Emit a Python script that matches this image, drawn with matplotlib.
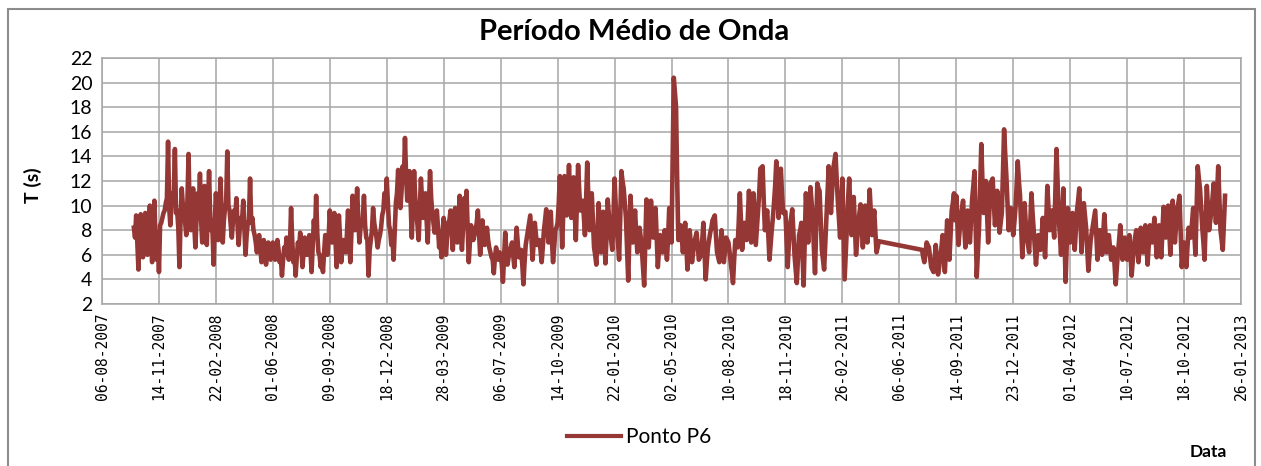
import pandas as pd
import matplotlib
matplotlib.use('Agg')
import matplotlib.pyplot as plt
import matplotlib.dates as mdates
from matplotlib.lines import Line2D
from matplotlib.patches import Rectangle

# Mean wave period at point P6.
# period_* : readings every 4 days, between_* : readings 2 days after each of those.
start_a = '2007-10-01'
period_a = [
    # Oct - Nov 2007
    8.2, 9.2, 4.8, 9.3, 5.8, 9.4, 6.0, 10.0, 5.4, 10.4, 5.6,
    # 14-11-2007
    4.6, 8.6, 9.4, 10.2, 15.2, 8.4, 11.0, 14.6, 9.6, 5.0, 11.4, 9.6, 7.6,
    14.2, 8.0, 11.4, 6.6, 11.0, 12.6, 7.0, 11.6, 6.8, 12.8, 8.0, 5.2,
    # 22-02-2008
    11.0, 7.2, 12.2, 7.0, 9.8, 14.4, 9.6, 7.4, 9.6, 10.6, 6.8, 9.0, 10.4,
    6.0, 8.6, 12.2, 9.0, 7.6, 6.2, 7.6, 5.4, 7.2, 5.2, 7.0, 5.6,
    # 01-06-2008
    7.0, 5.6, 7.2, 5.4, 4.3, 6.6, 7.4, 5.6, 9.8, 5.4, 4.3, 7.0, 7.8,
    5.0, 7.4, 6.0, 7.6, 4.6, 8.8, 10.8, 6.2, 5.0, 4.6, 7.6, 6.0,
    # 09-09-2008
    9.6, 7.0, 9.4, 5.0, 9.2, 5.4, 7.2, 6.2, 9.6, 5.4, 10.8, 8.0, 11.4,
    7.0, 8.6, 10.8, 7.4, 4.3, 7.2, 9.8, 8.0, 6.6, 7.6, 9.2, 11.0,
    # 18-12-2008
    12.2, 8.4, 6.8, 5.6, 10.2, 12.9, 9.8, 13.2, 15.5, 10.4, 12.8, 7.4, 12.8,
    9.4, 7.2, 12.2, 9.0, 11.0, 7.0, 12.8, 9.4, 7.8, 9.6, 6.6, 5.8,
    # 28-03-2009
    9.0, 6.0, 8.6, 9.6, 6.4, 9.8, 7.0, 10.8, 6.4, 10.6, 11.2, 5.4, 8.4,
    7.2, 8.0, 9.6, 6.0, 8.8, 6.8, 8.2, 6.6, 5.8, 4.5, 6.6, 5.6,
    # 06-07-2009
    6.0, 3.8, 7.8, 5.2, 6.4, 7.0, 5.0, 8.2, 5.8, 6.4, 3.6, 6.8, 8.0,
    9.2, 5.6, 8.6, 6.8, 7.2, 5.4, 8.0, 9.7, 7.0, 9.5, 5.4, 8.0,
    # 14-10-2009
    8.6, 12.4, 6.6, 12.4, 9.2, 13.3, 9.0, 12.3, 7.2, 13.3, 9.6, 10.4, 7.6,
    13.5, 8.0, 11.0, 6.6, 5.2, 10.2, 6.2, 9.5, 5.3, 10.5, 8.0, 6.4,
    # 22-01-2010
    12.2, 8.0, 5.6, 12.8, 11.4, 9.0, 3.9, 10.8, 7.0, 9.6, 6.2, 8.2, 6.4,
    3.5, 10.5, 6.6, 10.4, 7.4, 9.8, 5.0, 7.6, 6.2, 8.0, 5.6, 9.8,
    # 02-05-2010
    7.0, 20.4, 18.0, 7.2, 8.4, 6.2, 8.6, 4.8, 8.0, 5.4, 7.0, 7.8, 5.6,
    6.0, 8.6, 4.0, 6.6, 7.8, 8.8, 9.2, 6.2, 5.4, 8.0, 5.4, 7.4,
    # 10-08-2010
    7.0, 5.4, 3.7, 7.2, 6.6, 11.0, 6.4, 8.6, 7.2, 11.2, 7.0, 11.0, 6.8,
    9.6, 13.0, 13.2, 8.0, 9.6, 5.6, 8.0, 10.2, 13.6, 9.0, 13.0, 9.4,
    # 18-11-2010
    9.5, 5.0, 8.4, 9.7, 6.0, 3.7, 7.6, 8.6, 3.5, 11.0, 7.0, 11.5, 9.0,
    4.5, 11.8, 11.2, 6.4, 4.8, 9.0, 13.2, 9.4, 13.0, 14.2, 10.4, 7.4,
    # 26-02-2011
    12.2, 4.0, 8.6, 12.2, 7.6, 10.7, 6.0, 8.6, 10.1, 6.6, 10.0, 7.0, 11.3,
    7.6, 9.6, 6.2, 7.1,
]
between_a = [
    7.4, 7.0, 7.6, 7.2, 8.0, 7.4, 8.2, 7.6, 8.0, 7.2, 7.8,
    8.4, 9.0, 9.6, 10.6, 9.8, 10.2, 10.8, 9.4, 8.2, 9.0, 10.0, 8.6, 10.4,
    9.2, 9.8, 8.4, 9.0, 9.6, 8.8, 9.4, 8.6, 9.8, 9.0, 8.0, 8.6,
    9.4, 9.0, 9.6, 8.8, 10.2, 10.0, 8.4, 8.8, 9.0, 8.4, 8.2, 8.8, 8.2,
    7.6, 8.8, 8.6, 8.0, 7.0, 7.2, 6.6, 6.4, 6.6, 6.2, 6.4, 6.6,
    6.4, 6.2, 6.4, 5.8, 5.6, 6.0, 6.4, 6.8, 7.2, 6.0, 5.8, 6.4, 6.6,
    6.2, 6.8, 6.6, 6.4, 6.8, 7.6, 7.8, 6.0, 5.8, 6.2, 6.8, 7.4,
    7.8, 8.0, 7.2, 7.0, 7.4, 6.6, 6.8, 7.6, 7.4, 7.8, 8.6, 9.2, 8.8,
    8.2, 9.0, 8.4, 7.2, 6.4, 8.0, 8.6, 7.4, 7.2, 8.2, 9.6, 10.0,
    10.2, 8.0, 7.4, 7.8, 11.0, 10.8, 11.2, 12.0, 12.4, 11.2, 10.0, 10.2, 10.6,
    8.4, 9.6, 10.4, 9.8, 8.8, 9.8, 10.6, 8.6, 8.4, 8.2, 7.6, 7.8,
    7.6, 7.4, 8.8, 8.0, 8.2, 8.2, 8.6, 8.4, 8.2, 9.4, 8.4, 7.0, 7.8,
    7.6, 8.6, 7.8, 7.2, 7.6, 7.4, 7.2, 6.2, 5.6, 5.8, 6.0, 6.2,
    5.2, 5.8, 6.4, 5.8, 6.6, 6.0, 6.6, 7.0, 6.2, 5.2, 5.4, 7.4, 8.6,
    7.4, 7.0, 7.6, 7.0, 6.4, 6.6, 8.8, 8.4, 8.2, 7.2, 6.6, 8.2,
    10.2, 9.4, 9.4, 10.8, 11.0, 10.6, 10.6, 9.6, 10.2, 11.2, 10.0, 9.2, 10.4,
    10.6, 9.4, 8.8, 6.0, 7.6, 8.2, 7.8, 7.4, 7.6, 9.2, 7.2, 9.0,
    10.0, 7.0, 9.0, 12.0, 10.2, 6.4, 7.2, 8.8, 8.2, 7.8, 7.2, 7.4, 5.0,
    7.0, 8.6, 8.4, 8.8, 8.6, 7.4, 6.4, 7.0, 7.2, 6.8, 7.4, 8.4,
    14.0, 19.2, 12.0, 7.8, 7.4, 7.4, 6.8, 6.4, 6.8, 6.2, 7.4, 6.8, 5.8,
    7.2, 6.2, 5.4, 7.2, 8.2, 9.0, 7.6, 5.8, 6.8, 6.6, 6.4, 7.2,
    6.2, 4.6, 5.6, 6.8, 8.6, 8.6, 7.4, 7.8, 9.0, 9.0, 8.8, 8.8, 8.2,
    11.0, 13.1, 10.4, 8.8, 7.6, 6.8, 9.0, 11.6, 11.2, 11.0, 11.0, 9.4,
    7.2, 6.8, 9.0, 7.8, 4.8, 5.6, 8.0, 6.0, 7.2, 9.0, 9.2, 10.2, 6.6,
    8.0, 11.4, 8.8, 5.6, 7.0, 11.0, 11.2, 11.2, 13.6, 12.2, 9.0, 9.6,
    8.0, 6.2, 10.4, 9.8, 9.0, 8.4, 7.2, 9.4, 8.2, 8.2, 8.4, 9.2, 9.4,
    8.6, 7.8, 6.6,
]

start_b = '2011-07-16'
period_b = [
    # Jul - Sep 2011
    6.4, 5.4, 7.0, 6.6, 5.0, 4.6, 6.8, 4.4, 5.8, 7.6, 4.6, 8.8, 5.6, 9.6, 11.0,
    # 14-09-2011
    10.8, 6.8, 9.2, 10.4, 6.6, 9.6, 7.0, 10.6, 12.8, 4.2, 8.2, 15.0, 9.4,
    12.0, 7.0, 11.8, 12.2, 8.4, 11.2, 7.8, 9.4, 16.2, 12.4, 8.0, 9.8,
    # 23-12-2011
    7.6, 9.8, 13.6, 10.8, 5.8, 10.2, 7.4, 6.2, 11.0, 8.0, 5.2, 7.6, 6.4,
    9.0, 5.8, 11.6, 8.0, 9.6, 7.4, 14.6, 9.0, 6.0, 11.4, 3.8, 9.8,
    # 01-04-2012
    7.0, 9.4, 6.4, 9.6, 11.4, 6.2, 10.2, 8.2, 4.7, 7.2, 8.4, 9.6, 5.6,
    8.0, 6.0, 9.3, 6.2, 7.6, 5.6, 6.6, 3.6, 6.2, 8.4, 5.6, 7.4,
    # 10-07-2012
    5.6, 7.6, 4.3, 6.8, 8.0, 5.4, 8.2, 6.2, 8.4, 5.2, 8.4, 7.0, 9.0,
    5.8, 8.4, 5.8, 9.9, 7.4, 10.0, 6.0, 10.4, 7.0, 9.8, 10.8, 5.0,
    # 18-10-2012
    7.0, 5.0, 8.2, 7.4, 9.8, 6.0, 13.2, 11.4, 8.2, 5.6, 11.6, 8.0, 9.6,
    11.8, 8.6, 13.2, 8.0, 6.4, 10.8,
]
between_b = [
    5.8, 6.2, 6.8, 5.8, 4.8, 5.6, 5.6, 5.0, 6.6, 6.0, 6.6, 7.2, 7.6, 10.2, 8.8,
    8.6, 8.0, 9.8, 8.4, 8.0, 8.2, 8.8, 11.6, 8.4, 6.2, 11.6, 12.0, 10.6,
    9.4, 9.4, 12.0, 10.2, 9.8, 9.4, 8.6, 12.6, 14.2, 10.2, 9.0, 8.8,
    8.6, 11.6, 12.0, 8.2, 8.0, 8.6, 6.8, 8.6, 9.4, 6.6, 6.4, 7.0, 7.6,
    7.4, 8.6, 9.8, 8.8, 8.4, 11.0, 11.8, 7.6, 8.6, 7.6, 6.8, 8.4,
    8.2, 7.8, 8.0, 10.4, 8.8, 8.2, 9.2, 6.4, 6.0, 7.8, 9.0, 7.6, 6.8,
    7.0, 7.6, 7.8, 6.8, 6.6, 6.0, 5.2, 5.0, 7.2, 7.0, 6.4, 6.4,
    6.6, 6.0, 5.6, 7.4, 6.6, 6.8, 7.2, 7.2, 6.8, 6.8, 7.6, 8.0, 7.4,
    7.0, 7.0, 7.8, 8.6, 8.6, 8.0, 8.2, 8.6, 8.4, 10.2, 8.0, 6.2,
    6.0, 6.6, 7.8, 8.6, 7.8, 9.6, 12.2, 9.8, 7.0, 8.6, 9.8, 8.8, 10.6,
    10.2, 10.8, 10.6, 7.2, 8.6,
]

tick_start = '2007-08-06'
tick_end = '2013-01-26'


def merge(start, main, between):
    # put each 'between' reading 2 days after its 4-day reading
    dates, vals = [], []
    t0 = pd.Timestamp(start)
    for i, v in enumerate(main):
        dates.append(t0 + pd.Timedelta(days=4 * i))
        vals.append(v)
        if i < len(between) and i < len(main) - 1:
            dates.append(t0 + pd.Timedelta(days=4 * i + 2))
            vals.append(between[i])
    return dates, vals


def makeGraph():
    da, va = merge(start_a, period_a, between_a)
    db, vb = merge(start_b, period_b, between_b)
    dates = da + db
    values = va + vb

    fig = plt.figure(figsize=(12.61, 4.66), dpi=100)
    # outer chart-area border
    fig.patches.append(Rectangle((8 / 1261, -0.05), 1247 / 1261, 1.05 - 9 / 466,
                                 transform=fig.transFigure, fill=False,
                                 edgecolor='#8c8c8c', lw=1.5))

    ax = fig.add_axes([102 / 1261, 1 - 304 / 466, 1139 / 1261, 246 / 466])
    ax.plot(dates, values, color='#953735', lw=3.3)

    ax.set_ylim(2, 22)
    ax.set_yticks(range(2, 23, 2))
    ax.set_xlim(pd.Timestamp(tick_start), pd.Timestamp(tick_end))
    ax.set_xticks(pd.date_range(tick_start, tick_end, freq='100D'))
    ax.xaxis.set_major_formatter(mdates.DateFormatter('%d-%m-%Y'))
    ax.tick_params(axis='x', rotation=90, length=0, pad=6, labelsize=10.5)
    ax.tick_params(axis='y', length=0, pad=7, labelsize=14)
    for lab in ax.get_xticklabels():
        lab.set_family('DejaVu Sans Mono')
    for lab in ax.get_yticklabels():
        lab.set_family('Lato')
    ax.grid(True, color='#a6a6a6', lw=1.1)
    ax.set_axisbelow(True)
    for sp in ax.spines.values():
        sp.set_color('#a6a6a6')
        sp.set_linewidth(1.1)

    fig.text(0.5025, 1 - 32 / 466, 'Período Médio de Onda', ha='center', va='center',
             fontsize=21, fontweight='bold', family='Lato')
    fig.text(33 / 1261, 1 - 185 / 466, 'T (s)', ha='center', va='center', rotation=90,
             fontsize=14, fontweight='bold', family='Lato')
    fig.text(1208 / 1261, 1 - 452 / 466, 'Data', ha='center', va='center',
             fontsize=12.5, fontweight='bold', family='Lato')

    handle = Line2D([], [], color='#953735', lw=3)
    fig.legend([handle], ['Ponto P6'], loc='center', bbox_to_anchor=(0.507, 1 - 437 / 466),
               frameon=False, handlelength=2.6, handletextpad=0.25,
               prop={'family': 'Lato', 'size': 15})

    fig.savefig('out.png', dpi=100)


if __name__ == '__main__':
    makeGraph()
